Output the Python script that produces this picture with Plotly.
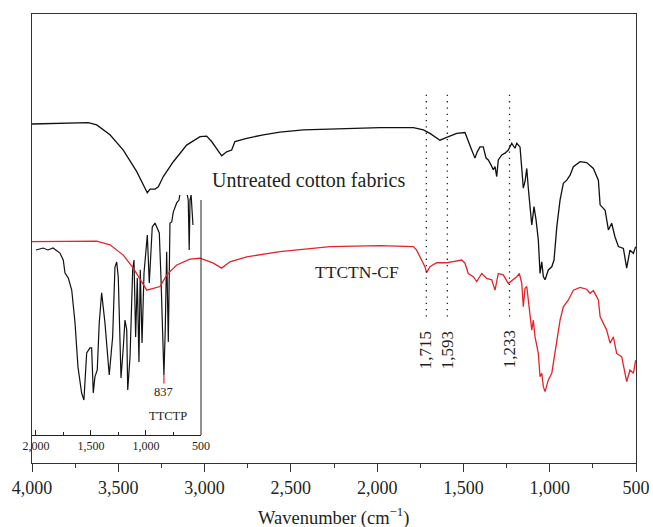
import plotly.graph_objects as go

# ---- Main spectra (wavenumber cm-1, relative transmittance) ----
cotton_wn = [4000, 3674, 3625, 3548, 3471, 3393, 3345, 3332, 3316, 3287, 3268, 3239, 3181, 3104,
             3026, 2988, 2959, 2920, 2901, 2872, 2843, 2824, 2756, 2660, 2563, 2428, 2273, 1983,
             1790, 1732, 1694, 1636, 1597, 1539, 1491, 1472, 1452, 1433, 1420, 1404, 1385, 1369,
             1356, 1340, 1327, 1317, 1307, 1298, 1278, 1259, 1240, 1220, 1201, 1191, 1172, 1162,
             1153, 1143, 1133, 1124, 1114, 1104, 1091, 1079, 1066, 1056, 1046, 1037, 1027, 1008,
             988, 975, 959, 940, 921, 901, 882, 863, 824, 786, 747, 718, 708, 679, 660, 641, 622,
             602, 573, 554, 535, 515, 502]
cotton_t = [75.5, 75.8, 75.3, 73.1, 69.7, 64.9, 61.2, 60.2, 61.0, 61.0, 61.5, 63.8, 67.1, 70.8,
            72.7, 72.8, 71.6, 69.3, 68.4, 69.3, 69.7, 71.6, 72.3, 73.1, 73.7, 74.2, 74.4, 74.7,
            74.7, 74.2, 73.4, 71.9, 72.5, 73.4, 73.6, 71.9, 69.7, 67.9, 69.3, 70.4, 70.4, 67.9,
            67.5, 66.4, 65.3, 66.0, 63.8, 67.5, 68.6, 69.0, 69.7, 71.2, 70.1, 71.2, 70.4, 65.6,
            61.2, 62.7, 65.6, 61.2, 57.1, 53.0, 57.1, 54.1, 49.7, 42.2, 44.8, 41.5, 40.8, 43.0,
            43.7, 45.2, 52.6, 58.6, 62.3, 63.0, 64.1, 66.0, 67.1, 66.9, 65.6, 63.0, 57.5, 56.3,
            51.9, 53.4, 50.4, 48.2, 47.8, 43.4, 47.4, 46.7, 48.2]

ttctn_wn = [4000, 3625, 3548, 3471, 3413, 3374, 3335, 3297, 3258, 3219, 3161, 3084, 3026, 2949,
            2901, 2853, 2756, 2563, 2273, 1983, 1790, 1771, 1742, 1723, 1713, 1694, 1655, 1597,
            1568, 1510, 1491, 1472, 1443, 1423, 1394, 1365, 1336, 1317, 1298, 1269, 1240, 1211,
            1191, 1176, 1162, 1153, 1143, 1133, 1118, 1104, 1095, 1085, 1066, 1056, 1046, 1037,
            1027, 1008, 988, 959, 940, 921, 892, 863, 824, 786, 766, 747, 718, 708, 670, 650, 631,
            612, 583, 554, 535, 515, 502]
ttctn_t = [49.3, 49.4, 48.6, 46.3, 43.4, 41.1, 38.5, 38.9, 39.3, 41.9, 44.1, 45.4, 45.6, 44.5,
           43.4, 44.8, 45.9, 47.1, 48.2, 48.4, 48.2, 47.4, 45.2, 43.7, 42.4, 43.7, 44.6, 44.6,
           44.8, 45.2, 44.5, 42.2, 41.5, 40.4, 42.2, 41.1, 40.8, 38.5, 42.2, 41.9, 40.0, 40.8,
           41.5, 42.2, 40.0, 34.8, 38.9, 39.3, 34.8, 29.6, 31.8, 28.1, 24.4, 19.2, 20.0, 17.0,
           15.9, 18.5, 20.0, 26.7, 31.8, 34.8, 36.3, 38.5, 39.1, 38.7, 37.8, 38.4, 36.3, 32.6,
           29.6, 26.7, 28.1, 24.4, 23.7, 18.1, 20.7, 20.0, 22.9]

# ---- Inset: TTCTP spectrum ----
ttctp_wn = [2000, 1936, 1891, 1845, 1782, 1752, 1736, 1706, 1675, 1645, 1618, 1585, 1564, 1539,
            1509, 1494, 1479, 1464, 1443, 1425, 1403, 1373, 1334, 1303, 1282, 1266, 1252, 1227,
            1206, 1191, 1175, 1166, 1145, 1121, 1109, 1094, 1079, 1064, 1052, 1036, 1018, 1000,
            988, 970, 957, 943, 918, 897, 879, 864, 837, 825, 812, 797, 782, 766, 752, 721, 700,
            680, 640, 616, 607, 600, 590, 573]
ttctp_t = [77.1, 77.9, 77.1, 77.9, 75.8, 72.9, 67.5, 65.4, 60.4, 46.7, 28.3, 17.5, 14.6, 34.2,
           36.3, 36.3, 17.5, 24.2, 27.1, 46.7, 59.2, 46.7, 25.0, 40.8, 70.0, 72.1, 65.8, 23.8,
           36.7, 47.9, 43.8, 18.8, 32.5, 68.8, 72.9, 40.8, 65.4, 30.4, 68.8, 38.3, 67.5, 75.8,
           83.3, 63.3, 77.1, 86.7, 88.3, 86.3, 84.2, 65.8, 25.0, 43.8, 76.3, 38.8, 88.3, 88.8,
           92.9, 96.7, 97.9, 104, 104, 97.9, 77.1, 97.9, 100, 87.5]

# ---- Marked peaks ----
peak_wn = [1715, 1593, 1233]
peak_labels = ["1,715", "1,593", "1,233"]
peak_top, peak_bottom, peak_label_y = 82.0, 32.6, 25.2

inset_peak = 837
inset_peak_label = "837"

main_ticks = [4000, 3500, 3000, 2500, 2000, 1500, 1000, 500]
main_ticklabels = ["4,000", "3,500", "3,000", "2,500", "2,000", "1,500", "1,000", "500"]
main_minor = [3750, 3250, 2750, 2250, 1750, 1250, 750]
inset_ticks = [2000, 1500, 1000, 500]
inset_ticklabels = ["2,000", "1,500", "1,000", "500"]
inset_minor = [1750, 1250, 750]

RED = "#e4232a"
FONT = "Liberation Serif"
TXT = "#231f20"

fig = go.Figure()

# Inset (drawn first, so the main curves sit above it)
fig.add_trace(go.Scatter(x=ttctp_wn, y=ttctp_t, mode="lines", xaxis="x", yaxis="y",
                         line=dict(color="#111", width=1.2), showlegend=False, hoverinfo="skip"))
fig.add_trace(go.Scatter(x=[inset_peak, inset_peak], y=[25.0, 21.5], mode="lines", xaxis="x", yaxis="y",
                         line=dict(color=RED, width=1.2), showlegend=False, hoverinfo="skip"))

# Main curves
fig.add_trace(go.Scatter(x=cotton_wn, y=cotton_t, mode="lines", xaxis="x2", yaxis="y2",
                         line=dict(color="#111", width=1.3), showlegend=False))
fig.add_trace(go.Scatter(x=ttctn_wn, y=ttctn_t, mode="lines", xaxis="x2", yaxis="y2",
                         line=dict(color=RED, width=1.3), showlegend=False))

# Dotted peak markers
for w in peak_wn:
    fig.add_trace(go.Scatter(x=[w, w], y=[peak_top, peak_bottom], mode="lines", xaxis="x2", yaxis="y2",
                             line=dict(color="#222", width=1.3, dash="1.3px,5px"), showlegend=False,
                             hoverinfo="skip"))

annotations = []
for w, lab in zip(peak_wn, peak_labels):
    annotations.append(dict(x=w, y=peak_label_y, xref="x2", yref="y2", text=lab, textangle=-90,
                            showarrow=False, font=dict(family=FONT, size=17, color=TXT)))
annotations.append(dict(x=2395, y=63.0, xref="x2", yref="y2", text="Untreated cotton fabrics",
                        showarrow=False, font=dict(family=FONT, size=20, color=TXT)))
annotations.append(dict(x=2117, y=42.5, xref="x2", yref="y2", text="TTCTN-CF",
                        showarrow=False, font=dict(family=FONT, size=17.5, color=TXT)))
annotations.append(dict(x=inset_peak, y=17.9, xref="x", yref="y", text=inset_peak_label,
                        showarrow=False, font=dict(family=FONT, size=12.5, color=TXT)))
annotations.append(dict(x=800, y=7.9, xref="x", yref="y", text="TTCTP",
                        showarrow=False, font=dict(family=FONT, size=12.5, color=TXT)))
# axis title placed explicitly
annotations.append(dict(x=0.5, y=-(516 - 463) / 449, xref="paper", yref="paper",
                        text="Wavenumber (cm<sup>−1</sup>)", showarrow=False, yanchor="middle",
                        font=dict(family=FONT, size=18.5, color=TXT)))

W, H = 653, 527
L, R, T, B = 32, 17, 14, 64
pw, ph = W - L - R, H - T - B
inset_right = (201 - L) / pw
inset_bot = (463 - 435) / ph
inset_top = (463 - 195) / ph
border_top = (463 - 200) / ph

fig.update_layout(
    template="none",
    width=W, height=H,
    margin=dict(l=L, r=R, t=T, b=B, autoexpand=False),
    paper_bgcolor="white", plot_bgcolor="rgba(0,0,0,0)",
    showlegend=False,
    annotations=annotations,
    xaxis=dict(domain=[0, inset_right], range=[2036, 500], anchor="y", automargin=False,
               showline=True, linecolor="#222", linewidth=1, ticks="inside", ticklen=5,
               tickcolor="#222", tickvals=inset_ticks, ticktext=inset_ticklabels,
               tickfont=dict(family=FONT, size=12, color=TXT),
               minor=dict(tickvals=inset_minor, ticks="inside", ticklen=3, tickcolor="#222"),
               showgrid=False, zeroline=False),
    yaxis=dict(domain=[inset_bot, inset_top], range=[0, 100], anchor="x", visible=False,
               automargin=False),
    xaxis2=dict(domain=[0, 1], range=[4000, 500], anchor="y2", automargin=False,
                showline=True, mirror=True, linecolor="#333", linewidth=1.2,
                ticks="outside", ticklen=8, tickcolor="#333",
                tickvals=main_ticks, ticktext=main_ticklabels,
                tickfont=dict(family=FONT, size=18, color=TXT),
                minor=dict(tickvals=main_minor, ticks="outside", ticklen=4, tickcolor="#333"),
                showgrid=False, zeroline=False),
    yaxis2=dict(domain=[0, 1], range=[0, 100], anchor="x2", automargin=False,
                showline=True, mirror=True, linecolor="#333", linewidth=1.2,
                ticks="", showticklabels=False, showgrid=False, zeroline=False),
    shapes=[dict(type="line", xref="paper", yref="paper", x0=inset_right, x1=inset_right,
                 y0=inset_bot, y1=border_top, line=dict(color="#222", width=1))],
)

fig.write_html("out.html")
